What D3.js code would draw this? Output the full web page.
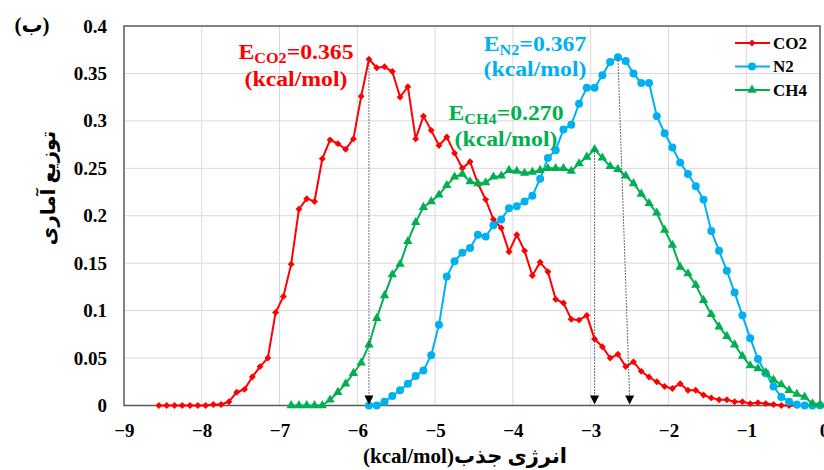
<!DOCTYPE html>
<html>
<head>
<meta charset="utf-8">
<script src="https://cdn.jsdelivr.net/npm/d3@7"></script>
<style>
  body { margin: 0; background: #fff; }
  svg { display: block; }
  svg text { font-family: "Liberation Serif", "Times New Roman", "DejaVu Sans", serif; font-weight: bold; }
</style>
</head>
<body>
<div id="chart"></div>
<script>
// series values, bins every 0.1 kcal/mol
const step = 0.1;
const co2Start = -8.55;
const co2Values = [0, 0, 0, 0, 0, 0, 0, 0.001, 0.001, 0.004,
    0.014, 0.017, 0.030, 0.041, 0.050, 0.098, 0.115, 0.149, 0.207, 0.218,
    0.215, 0.260, 0.280, 0.276, 0.270, 0.281, 0.326, 0.365, 0.356, 0.357,
    0.352, 0.325, 0.336, 0.281, 0.305, 0.290, 0.274, 0.283, 0.266, 0.250,
    0.257, 0.234, 0.217, 0.196, 0.187, 0.162, 0.180, 0.163, 0.137, 0.151,
    0.141, 0.112, 0.108, 0.091, 0.090, 0.095, 0.070, 0.062, 0.050, 0.054,
    0.041, 0.046, 0.036, 0.030, 0.025, 0.020, 0.018, 0.023, 0.016, 0.016,
    0.011, 0.008, 0.006, 0.006, 0.004, 0.004, 0.002, 0.003, 0.002, 0.001,
    0, 0, 0];
const n2Start = -5.85;
const n2Values = [0, 0, 0.004, 0.010, 0.016, 0.023, 0.031, 0.037, 0.053, 0.085,
    0.136, 0.152, 0.161, 0.166, 0.180, 0.178, 0.190, 0.196, 0.208, 0.210,
    0.215, 0.221, 0.239, 0.261, 0.269, 0.291, 0.296, 0.318, 0.335, 0.335,
    0.348, 0.362, 0.367, 0.363, 0.350, 0.340, 0.340, 0.305, 0.287, 0.272,
    0.256, 0.244, 0.231, 0.217, 0.184, 0.163, 0.142, 0.119, 0.095, 0.071,
    0.049, 0.034, 0.020, 0.009, 0.004, 0.001, 0, 0, 0];
const ch4Start = -6.85;
const ch4Values = [0, 0, 0, 0, 0, 0.006, 0.014, 0.023, 0.034, 0.045,
    0.064, 0.092, 0.116, 0.138, 0.149, 0.173, 0.193, 0.209, 0.215, 0.222,
    0.232, 0.241, 0.244, 0.236, 0.234, 0.235, 0.241, 0.242, 0.248, 0.247,
    0.245, 0.246, 0.248, 0.250, 0.250, 0.250, 0.247, 0.255, 0.262, 0.270,
    0.261, 0.252, 0.249, 0.242, 0.234, 0.223, 0.213, 0.203, 0.185, 0.169,
    0.146, 0.139, 0.127, 0.111, 0.096, 0.083, 0.073, 0.064, 0.052, 0.042,
    0.039, 0.035, 0.027, 0.022, 0.016, 0.012, 0.009, 0.002, 0.001];

const seriesNames = ['CO2', 'N2', 'CH4'];
const xTicks = [-9, -8, -7, -6, -5, -4, -3, -2, -1, 0];
const yTicks = [0, 0.05, 0.1, 0.15, 0.2, 0.25, 0.3, 0.35, 0.4];
const yTickLabels = ['0', '0.05', '0.1', '0.15', '0.2', '0.25', '0.3', '0.35', '0.4'];

// peak markers: from (x, value) down to (x, 0)
const peakNames = ['CO2', 'N2', 'CH4'];
const peakFromX = [-5.85, -2.65, -2.95];
const peakValues = [0.365, 0.367, 0.270];
const peakToX = [-5.85, -2.5, -2.95];

const width = 824, height = 470;
const plotLeft = 124, plotRight = 820, plotTop = 26, plotBottom = 405.5;

const svg = d3.select('#chart')
    .append('svg')
    .attr('width', width)
    .attr('height', height);

const xScale = d3.scaleLinear().domain([-9, 0]).range([123.9, 824.1]);
const yScale = d3.scaleLinear().domain([0, 0.4]).range([plotBottom, plotTop]);

// grid
svg.append('g')
    .selectAll('line')
    .data(yTicks.slice(1, -1))
    .enter()
    .append('line')
    .attr('x1', plotLeft).attr('x2', plotRight)
    .attr('y1', d => yScale(d)).attr('y2', d => yScale(d))
    .attr('stroke', '#d9d9d9').attr('stroke-width', 1);

svg.append('g')
    .selectAll('line')
    .data(xTicks.slice(1, -1))
    .enter()
    .append('line')
    .attr('x1', d => xScale(d)).attr('x2', d => xScale(d))
    .attr('y1', plotTop).attr('y2', plotBottom)
    .attr('stroke', '#d9d9d9').attr('stroke-width', 1);

// frame
svg.append('rect')
    .attr('x', plotLeft).attr('y', plotTop)
    .attr('width', plotRight - plotLeft).attr('height', plotBottom - plotTop)
    .attr('fill', 'none').attr('stroke', '#595959').attr('stroke-width', 1.5);

// axes
const xAxis = d3.axisBottom(xScale).tickValues(xTicks).tickSize(0).tickPadding(18);
svg.append('g')
    .attr('transform', 'translate(0,' + plotBottom + ')')
    .call(xAxis)
    .attr('font-family', null)
    .attr('font-size', 19)
    .call(g => g.select('.domain').remove())
    .selectAll('text')
    .style('font-family', '"Liberation Serif", "Times New Roman", serif')
    .attr('fill', '#000');

const yAxis = d3.axisLeft(yScale).tickValues(yTicks).tickSize(0).tickPadding(17)
    .tickFormat((d, i) => yTickLabels[i]);
svg.append('g')
    .attr('transform', 'translate(' + plotLeft + ',0)')
    .call(yAxis)
    .attr('font-family', null)
    .attr('font-size', 19)
    .call(g => g.select('.domain').remove())
    .selectAll('text')
    .style('font-family', '"Liberation Serif", "Times New Roman", serif')
    .attr('fill', '#000');

svg.selectAll('.tick line').remove();

// series
const series = [
    { name: 'CO2', start: co2Start, values: co2Values, color: '#ff0000', symbol: d3.symbolSquare, size: 24, rotate: 45 },
    { name: 'N2', start: n2Start, values: n2Values, color: '#00b0f0', symbol: d3.symbolCircle, size: 50, rotate: 0 },
    { name: 'CH4', start: ch4Start, values: ch4Values, color: '#00b050', symbol: d3.symbolTriangle, size: 38, rotate: 0 }
];

const line = d3.line()
    .x(d => xScale(d.x))
    .y(d => yScale(d.y));

series.forEach(s => {
    const pts = s.values.map((v, i) => ({ x: s.start + i * step, y: v }));
    const g = svg.append('g').attr('class', 'series-' + s.name);
    g.append('path')
        .datum(pts)
        .attr('d', line)
        .attr('fill', 'none')
        .attr('stroke', s.color)
        .attr('stroke-width', 2);
    g.selectAll('path.pt')
        .data(pts)
        .enter()
        .append('path')
        .attr('class', 'pt')
        .attr('d', d3.symbol().type(s.symbol).size(s.size))
        .attr('transform', d => 'translate(' + xScale(d.x) + ',' + yScale(d.y) + ') rotate(' + s.rotate + ')')
        .attr('fill', s.color);
});

// dotted peak arrows
peakNames.forEach((n, i) => {
    const x1 = xScale(peakFromX[i]), y1 = yScale(peakValues[i]);
    const x2 = xScale(peakToX[i]), y2 = yScale(0);
    svg.append('line')
        .attr('x1', x1).attr('y1', y1)
        .attr('x2', x2).attr('y2', y2 - 8)
        .attr('stroke', '#404040').attr('stroke-width', 1)
        .attr('stroke-dasharray', '1.5,1.5');
    svg.append('path')
        .attr('d', 'M' + (x2 - 4.5) + ',' + (y2 - 10) + 'L' + (x2 + 4.5) + ',' + (y2 - 10) + 'L' + x2 + ',' + (y2 - 1) + 'Z')
        .attr('fill', '#000');
});

// peak labels
const labels = [
    { sub: 'CO2', value: '0.365', color: '#ff0000', x: 296, y: 59, gap: 27 },
    { sub: 'N2', value: '0.367', color: '#00b0f0', x: 535, y: 51, gap: 25 },
    { sub: 'CH4', value: '0.270', color: '#00b050', x: 506, y: 120, gap: 26 }
];
labels.forEach(l => {
    const g = svg.append('g')
        .attr('transform', 'translate(' + l.x + ',' + l.y + ') scale(1.08,1)')
        .attr('fill', l.color)
        .attr('font-size', 22)
        .attr('text-anchor', 'middle');
    const t = g.append('text');
    t.append('tspan').text('E');
    t.append('tspan').attr('font-size', 15).attr('dy', 4).text(l.sub);
    t.append('tspan').attr('dy', -4).text('=' + l.value);
    g.append('text').attr('y', l.gap).text('(kcal/mol)');
});

// legend
const legend = svg.append('g').attr('id', 'legend');
series.forEach((s, i) => {
    const ly = 43 + i * 23.5;
    legend.append('line')
        .attr('x1', 735).attr('x2', 770)
        .attr('y1', ly).attr('y2', ly)
        .attr('stroke', s.color).attr('stroke-width', 2);
    legend.append('path')
        .attr('d', d3.symbol().type(s.symbol).size(s.size))
        .attr('transform', 'translate(752,' + ly + ') rotate(' + s.rotate + ')')
        .attr('fill', s.color);
    legend.append('text')
        .attr('x', 773).attr('y', ly)
        .attr('dy', '0.35em')
        .attr('font-size', 17)
        .text(seriesNames[i]);
});

// titles
svg.append('text')
    .attr('x', 32).attr('y', 25).attr('dy', '0.35em')
    .attr('text-anchor', 'middle')
    .attr('font-size', 21)
    .text('(ب)');

svg.append('text')
    .attr('transform', 'translate(48,188) rotate(-90)')
    .attr('text-anchor', 'middle')
    .attr('dy', '0.35em')
    .attr('font-size', 20)
    .text('توزیع آماری');

svg.append('text')
    .attr('x', 465).attr('y', 463)
    .attr('text-anchor', 'middle')
    .attr('direction', 'rtl')
    .attr('font-size', 21)
    .text('انرژی جذب(kcal/mol)');
</script>
</body>
</html>
